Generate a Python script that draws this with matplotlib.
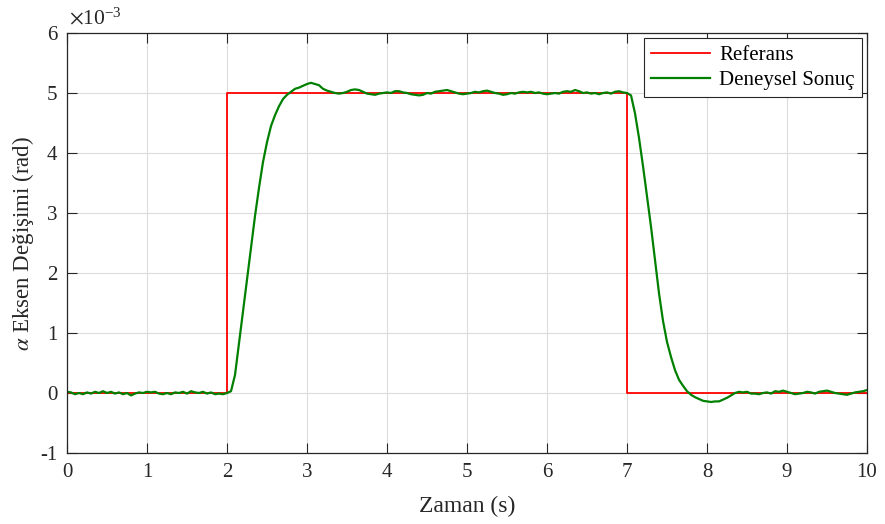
import numpy as np
import matplotlib
matplotlib.use("Agg")
import matplotlib.pyplot as plt

plt.rcParams["font.family"] = ["Liberation Serif", "DejaVu Serif"]
plt.rcParams["mathtext.fontset"] = "stix"
plt.rcParams["axes.unicode_minus"] = False

# =============================
# Data (values in units of 1e-3 rad)
# =============================
ref_t = [0, 2, 7, 10]
ref_v = [0, 5, 0, 0]

# measured response, sampled every 0.05 s from 0 to 10 s
exp_dt = 0.05
exp_v = [
    0.02, 0.01, -0.02, 0.00, -0.02, 0.01, -0.01, 0.02, 0.00, 0.03,
    0.00, 0.02, -0.01, 0.01, -0.02, 0.00, -0.04, -0.01, 0.01, 0.00,
    0.02, 0.01, 0.02, -0.01, -0.02, 0.00, -0.02, 0.01, 0.00, 0.02,
    -0.01, 0.03, 0.01, 0.00, 0.02, -0.01, 0.01, -0.02, -0.01, -0.02,
    0.00, 0.03, 0.30, 0.83, 1.35, 1.88, 2.42, 2.95, 3.42, 3.85,
    4.18, 4.45, 4.63, 4.78, 4.90, 4.97, 5.02, 5.07, 5.09, 5.12,
    5.15, 5.17, 5.15, 5.13, 5.07, 5.04, 5.02, 5.00, 4.99, 5.00,
    5.02, 5.05, 5.06, 5.05, 5.02, 4.99, 4.98, 4.97, 4.99, 5.00,
    5.01, 5.00, 5.03, 5.03, 5.01, 5.00, 4.98, 4.97, 4.96, 4.97,
    5.00, 4.99, 5.02, 5.03, 5.04, 5.05, 5.03, 5.01, 4.99, 4.98,
    4.99, 5.00, 5.02, 5.01, 5.03, 5.04, 5.02, 5.00, 4.99, 4.97,
    4.98, 5.00, 4.99, 5.01, 5.02, 5.01, 5.02, 5.00, 5.01, 4.99,
    4.98, 4.99, 5.00, 4.99, 5.02, 5.03, 5.02, 5.05, 5.03, 5.00,
    5.01, 4.99, 5.00, 4.98, 5.00, 5.01, 4.99, 5.02, 5.03, 5.01,
    5.00, 4.96, 4.66, 4.25, 3.78, 3.28, 2.77, 2.22, 1.66, 1.20,
    0.85, 0.60, 0.38, 0.22, 0.12, 0.03, -0.03, -0.07, -0.10, -0.13,
    -0.14, -0.15, -0.14, -0.14, -0.11, -0.08, -0.04, 0.00, 0.02, 0.01,
    0.02, -0.01, -0.01, -0.02, 0.00, 0.01, -0.01, 0.03, 0.02, 0.04,
    0.02, 0.00, -0.02, -0.01, 0.00, 0.02, 0.01, -0.01, 0.02, 0.03,
    0.04, 0.02, 0.00, -0.01, -0.02, -0.03, -0.01, 0.01, 0.02, 0.03,
    0.05,
]
exp_t = np.arange(len(exp_v)) * exp_dt

x_ticks = list(range(0, 11))
y_ticks = list(range(-1, 7))

# =============================
# Plot
# =============================
fig = plt.figure(figsize=(8.85, 5.24), dpi=100)
ax = fig.add_axes([0.0757, 0.1355, 0.904, 0.8015])

ax.plot(ref_t, ref_v, color="#ff0000", lw=1.3, drawstyle="steps-post", label="Referans")
ax.plot(exp_t, exp_v, color="#008000", lw=1.6, label="Deneysel Sonuç")

ax.set_xlim(0, 10)
ax.set_ylim(-1, 6)
ax.set_xticks(x_ticks)
ax.set_yticks(y_ticks)
ax.grid(True, color="#dcdcdc", lw=0.8)
ax.set_axisbelow(True)
ax.tick_params(direction="in", top=True, right=True, length=7, width=0.8,
               labelsize=15, colors="#262626", pad=7)
for s in ax.spines.values():
    s.set_color("#262626")
    s.set_linewidth(0.9)

ax.set_xlabel("Zaman (s)", fontsize=17, color="#262626", labelpad=10)
ax.set_ylabel(r"$\alpha$ Eksen Değişimi (rad)", fontsize=16.5, color="#262626")
ax.yaxis.set_label_coords(-0.039, 0.5)
ax.text(0.003, 1.01, r"$\times\mathregular{10^{-3}}$", transform=ax.transAxes,
        fontsize=15.5, color="#262626", ha="left", va="bottom")

leg = ax.legend(loc="upper right", fontsize=15, fancybox=False, framealpha=1,
                edgecolor="#262626", handlelength=2.8, borderaxespad=0.25,
                borderpad=0.35, labelspacing=0.25, handletextpad=0.45)
leg.get_frame().set_linewidth(0.8)

fig.savefig("out.png", dpi=100)
